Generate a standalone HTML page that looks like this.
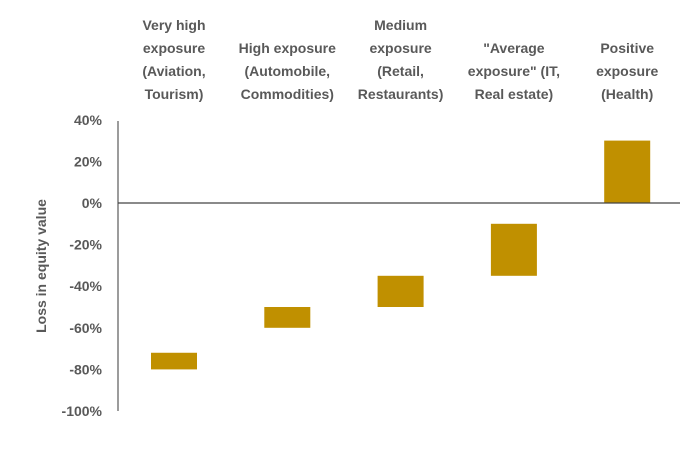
<!DOCTYPE html>
<html><head><meta charset="utf-8"><style>
body{margin:0;background:#fff;width:700px;height:456px;overflow:hidden}
text{font-family:"Liberation Sans",sans-serif;font-weight:bold;fill:#595959}
</style></head><body>
<svg id="chart" width="700" height="456" xmlns="http://www.w3.org/2000/svg">
<text transform="translate(46,266) rotate(-90)" text-anchor="middle" font-size="14">Loss in equity value</text>
<g id="ticks"></g><g id="bars"></g><g id="cats"></g>
<line x1="118" y1="121" x2="118" y2="411" stroke="#666" stroke-width="1.3"/>
<line x1="118" y1="203" x2="680" y2="203" stroke="#444" stroke-width="1.3"/>
</svg>
<script>
const categories=[["Very high","exposure","(Aviation,","Tourism)"],["High exposure","(Automobile,","Commodities)"],["Medium","exposure","(Retail,","Restaurants)"],["\"Average","exposure\" (IT,","Real estate)"],["Positive","exposure","(Health)"]];
const lows=[-80,-60,-50,-35,0];
const highs=[-72,-50,-35,-10,30];
const tickValues=[40,20,0,-20,-40,-60,-80,-100];
const tickLabels=["40%","20%","0%","-20%","-40%","-60%","-80%","-100%"];
const NS="http://www.w3.org/2000/svg";
const y=v=>203-(v)*(411-203)/100;
const x=i=>174+i*113.3;
const T=document.getElementById('ticks'),B=document.getElementById('bars'),C=document.getElementById('cats');
tickValues.forEach((v,i)=>{const t=document.createElementNS(NS,'text');


t.setAttribute('x',102);t.setAttribute('y',y(v)+5);t.setAttribute('text-anchor','end');t.setAttribute('font-size','14');t.textContent=tickLabels[i];T.appendChild(t);});
categories.forEach((c,i)=>{const r=document.createElementNS(NS,'rect');


r.setAttribute('x',x(i)-23);r.setAttribute('width',46);r.setAttribute('y',y(highs[i]));r.setAttribute('height',y(lows[i])-y(highs[i]));r.setAttribute('fill','#C09000');B.appendChild(r);
const start=c.length===3?53:30;
c.forEach((l,j)=>{const t=document.createElementNS(NS,'text');


t.setAttribute('x',x(i));t.setAttribute('y',start+j*23);t.setAttribute('text-anchor','middle');t.setAttribute('font-size','14');t.textContent=l;C.appendChild(t);});});
</script>
</body></html>
